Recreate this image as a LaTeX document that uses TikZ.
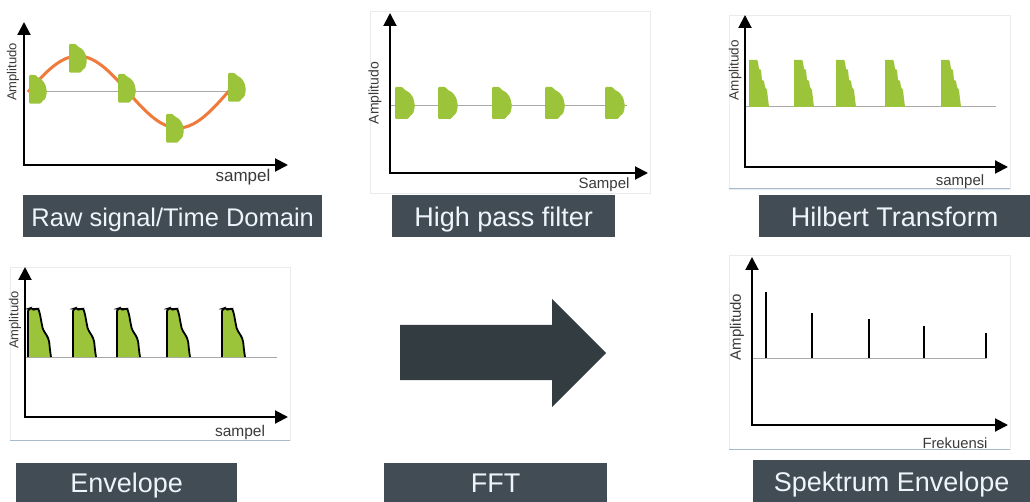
\documentclass[tikz,border=0pt]{standalone}
\usepackage{fontspec}
\setmainfont{Liberation Sans}
\usetikzlibrary{arrows.meta}
\definecolor{boxbg}{HTML}{414C54}
\definecolor{boxtext}{HTML}{EEF4FA}
\definecolor{blobgreen}{HTML}{9CC43A}
\definecolor{sineorange}{HTML}{F07A3C}
\definecolor{zerogray}{HTML}{A8A8A8}
\definecolor{framefaint}{HTML}{E8ECEF}
\definecolor{framebottom}{HTML}{A9BBCA}
\definecolor{arrowdark}{HTML}{333D41}
\definecolor{smalltext}{HTML}{3A3A3A}
\begin{document}
\begin{tikzpicture}[x=1pt,y=-1pt,
  axes/.style={line width=2pt, line join=miter, {Triangle[length=13pt,width=13pt]}-{Triangle[length=13pt,width=13pt]}},
  zero/.style={zerogray, line width=1pt},
  faint/.style={framefaint, line width=0.8pt},
  bottomline/.style={framebottom, line width=1pt},
  caption/.style={fill=boxbg, text=boxtext, font=\fontsize{27}{30}\selectfont, inner sep=0pt, anchor=north west, text height=20pt, text depth=0pt, align=center},
  axlabel/.style={text=smalltext, inner sep=0pt},
  spike/.style={line width=2.5pt, black},
  hpblob/.pic={\fill[blobgreen, rounded corners=1.2pt] (0,-19) -- (7.7,-19) -- (9.3,-16.3) -- (12,-15) -- (15,-13) -- (18.3,-8) -- (20,0) -- (18.3,7.3) -- (14.3,10.7) -- (13.3,13) -- (0,13) -- cycle;},
  hilblob/.pic={\fill[blobgreen] (0,0) -- (0,-47) -- (8,-47) -- (9,-45) -- (10,-38) -- (12,-37) -- (13,-27) -- (15,-26) -- (16,-20) -- (18,-17) -- (19,-8) -- (20,0) -- cycle;},
  envblob/.pic={\fill[blobgreen, rounded corners=2pt] (0,0) -- (0,-48) -- (3,-49) -- (7,-47) -- (10,-49) -- (12,-43) -- (13,-37) -- (15,-27) -- (18,-23) -- (21,-17) -- (22,-7) -- (23,0) -- cycle;
    \draw[black, line width=1.8pt, rounded corners=2pt] (0,0) -- (0,-48) -- (3,-49) -- (7,-47) -- (10,-49) -- (12,-43) -- (13,-37) -- (15,-27) -- (18,-23) -- (21,-17) -- (22,-7) -- (23,0);}
]
\useasboundingbox (0,0) rectangle (1030,502);
\fill[white] (0,0) rectangle (1030,502);

% ---------- Panel 1: raw signal ----------
\draw[zero] (30,92) -- (230,92);
\draw[sineorange, line width=3pt] plot[domain=28:232, samples=80, smooth] (\x, {92-36*sin(1.8*(\x-28))});
\pic[scale=0.9] at (29,92) {hpblob};
\pic[scale=0.9] at (69,61) {hpblob};
\pic[scale=0.9] at (118,91) {hpblob};
\pic[scale=0.9] at (166,131) {hpblob};
\pic[scale=0.9] at (228,90) {hpblob};
\draw[axes] (24,22) -- (24,165) -- (288,165);
\node[axlabel, font=\fontsize{17}{17}\selectfont] (s1) at (243,177) {sampel};
\node[axlabel, font=\fontsize{13}{13}\selectfont, rotate=90] (a1) at (13,72) {Amplitudo};
\node[caption, minimum width=299pt, minimum height=42pt, font=\fontsize{25.5}{28}\selectfont] (c1) at (23,195) {Raw signal/Time Domain};

% ---------- Panel 2: high pass filter ----------
\draw[faint] (370,11) rectangle (650,193);
\draw[zero] (390,106) -- (627,106);
\foreach \bx in {395,438,492,545,605} {\pic at (\bx,106) {hpblob};}
\draw[axes] (390,13) -- (390,173) -- (648,173);
\node[axlabel, font=\fontsize{15}{15}\selectfont] (s2) at (604,185) {Sampel};
\node[axlabel, font=\fontsize{14}{14}\selectfont, rotate=90] (a2) at (375,93) {Amplitudo};
\node[caption, minimum width=223pt, minimum height=42pt] (c2) at (392,195) {High pass filter};

% ---------- Panel 3: Hilbert transform ----------
\draw[faint] (729,15) rectangle (1010,189);
\draw[bottomline] (729,189) -- (1010,189);
\draw[zero] (745,107) -- (996,107);
\foreach \bx in {749,794,836,885,941} {\pic at (\bx,107) {hilblob};}
\draw[axes] (745,15) -- (745,167) -- (1008,167);
\node[axlabel, font=\fontsize{15}{15}\selectfont] (s3) at (960,182) {sampel};
\node[axlabel, font=\fontsize{13.5}{13.5}\selectfont, rotate=90] (a3) at (735,70) {Amplitudo};
\node[caption, minimum width=271pt, minimum height=42pt] (c3) at (759,195) {Hilbert Transform};

% ---------- Panel 4: envelope ----------
\draw[faint] (10,267) rectangle (290,440);
\draw[bottomline] (10,440) -- (290,440);
\draw[zero] (25,357) -- (277,357);
\foreach \bx in {28,73,117,167,222} {\pic at (\bx,357) {envblob};}
\draw[axes] (25,267) -- (25,417) -- (288,417);
\node[axlabel, font=\fontsize{15.5}{15.5}\selectfont] (s4) at (240,432) {sampel};
\node[axlabel, font=\fontsize{13}{13}\selectfont, rotate=90] (a4) at (15,320) {Amplitudo};
\node[caption, minimum width=221pt, minimum height=39pt] (c4) at (16,463) {Envelope};

% ---------- Panel 5: FFT arrow ----------
\fill[arrowdark] (400,325) -- (552,325) -- (552,299) -- (606,353) -- (552,407) -- (552,380) -- (400,380) -- cycle;
\node[caption, minimum width=223pt, minimum height=39pt] (c5) at (384,463) {FFT};

% ---------- Panel 6: spectrum envelope ----------
\draw[faint] (729,255) rectangle (1010,449);
\draw[bottomline] (729,449) -- (1010,449);
\draw[zero] (752,358) -- (987,358);
\draw[spike] (766,358) -- (766,292);
\draw[spike] (812,358) -- (812,313);
\draw[spike] (869,358) -- (869,319);
\draw[spike] (924,358) -- (924,326);
\draw[spike] (986,358) -- (986,333);
\draw[axes] (752,257) -- (752,425) -- (1008,425);
\node[axlabel, font=\fontsize{14.8}{14.8}\selectfont] (s6) at (955,443) {Frekuensi};
\node[axlabel, font=\fontsize{15}{15}\selectfont, rotate=90] (a6) at (737,327) {Amplitudo};
\node[caption, minimum width=277pt, minimum height=42pt] (c6) at (753,460) {Spektrum Envelope};
\end{tikzpicture}
\end{document}
